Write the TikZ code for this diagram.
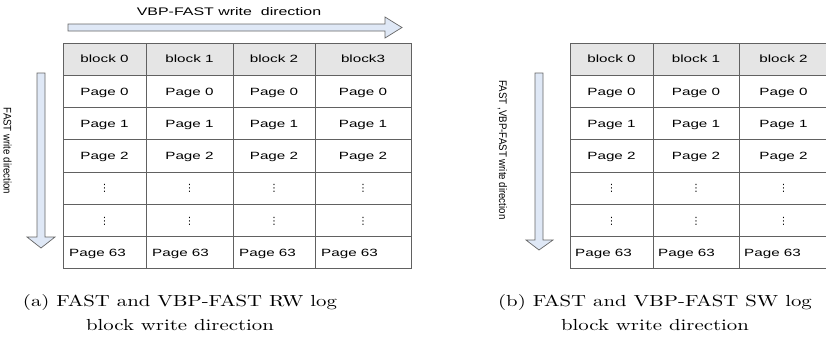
\documentclass[tikz,border=0pt]{standalone}
\usepackage{fontspec}
\usetikzlibrary{calc}
\newfontfamily\cellfont[FakeStretch=1.45]{Liberation Sans}
\newfontfamily\sidefont[FakeStretch=0.88]{Liberation Sans}
\newfontfamily\dotfont{DejaVu Sans}
\newfontfamily\capfont[FakeStretch=1.3]{lmroman10-regular.otf}
\definecolor{arrowfill}{RGB}{223,232,246}
\colorlet{gridline}{black!62}
\colorlet{hdrfill}{black!10}
\newcommand\vdotcell{{\dotfont\fontsize{10}{12}\selectfont ⋮}}
\tikzstyle{grid}=[draw=gridline,line width=.9pt]
\tikzstyle{hdr}=[fill=hdrfill]
\tikzstyle{dirarrow}=[draw=black!60,fill=arrowfill,line width=.7pt,line join=miter]
\tikzstyle{cell}=[font=\cellfont\fontsize{10.5}{12}\selectfont,inner sep=0pt,anchor=base]
\tikzstyle{side}=[font=\sidefont\fontsize{11}{12}\selectfont,inner sep=0pt,rotate=-90]
\tikzstyle{capt}=[font=\capfont\fontsize{16}{24}\selectfont,align=center,inner sep=0pt,anchor=north]
\begin{document}
\begin{tikzpicture}[x=1pt,y=-1pt]
	\useasboundingbox (0,0) rectangle (826,341);
	\clip (0,0) rectangle (826,341);
	% (a) RW log block
	\fill[hdr] (63,43) rectangle (411,75.25);
	\foreach \gx in {63,146,233,315,411} \draw[grid] (\gx,43) -- (\gx,268.75);
	\foreach \k [evaluate=\k as \gy using 43+32.25*\k] in {0,...,7} \draw[grid] (63,\gy) -- (411,\gy);
	\foreach \c/\xl/\xr/\blk in {1/63/146/block 0,2/146/233/block 1,3/233/315/block 2,4/315/411/block3} {
		\node[cell] (a-0-\c) at ({(\xl+\xr)/2},62.9) {\blk};
		\foreach \r/\txt in {1/Page 0,2/Page 1,3/Page 2,4/\vdotcell,5/\vdotcell}
			\node[cell] (a-\r-\c) at ({(\xl+\xr)/2},{62.9+32.25*\r}) {\txt};
		\node[cell,anchor=base west] (a-6-\c) at (\xl+6,256.4) {Page 63};
	}
	\draw[dirarrow] (68,24) -- (385,24) -- (385,17) -- (402,27.5) -- (385,38) -- (385,31) -- (68,31) -- cycle;
	\node[cell,font=\cellfont\fontsize{11}{12}\selectfont] (vbpdir) at (229,15) {VBP-FAST write\ \ direction};
	\draw[dirarrow] (37,73) -- (45,73) -- (45,237) -- (55,237) -- (41,248) -- (27,237) -- (37,237) -- cycle;
	\node[side] (fastdir) at (7.5,151) {FAST write direction};
	\node[capt] (capa) at (180,294) {(a) FAST and VBP-FAST RW log\\block write direction};
	% (b) SW log block
	\fill[hdr] (570,43) rectangle (828,75.25);
	\foreach \gx in {570,653,739,828} \draw[grid] (\gx,43) -- (\gx,268.75);
	\foreach \k [evaluate=\k as \gy using 43+32.25*\k] in {0,...,7} \draw[grid] (570,\gy) -- (828,\gy);
	\foreach \c/\xl/\xr/\blk in {1/570/653/block 0,2/653/739/block 1,3/739/828/block 2} {
		\node[cell] (b-0-\c) at ({(\xl+\xr)/2},62.9) {\blk};
		\foreach \r/\txt in {1/Page 0,2/Page 1,3/Page 2,4/\vdotcell,5/\vdotcell}
			\node[cell] (b-\r-\c) at ({(\xl+\xr)/2},{62.9+32.25*\r}) {\txt};
		\node[cell,anchor=base west] (b-6-\c) at (\xl+5,256.4) {Page 63};
	}
	\draw[dirarrow] (535,73) -- (543,73) -- (543,240) -- (553,240) -- (539,250) -- (526,240) -- (535,240) -- cycle;
	\node[side] (bothdir) at (502.5,150) {FAST ,VBP-FAST write direction};
	\node[capt] (capb) at (655,294) {(b) FAST and VBP-FAST SW log\\block write direction};
\end{tikzpicture}
\end{document}
